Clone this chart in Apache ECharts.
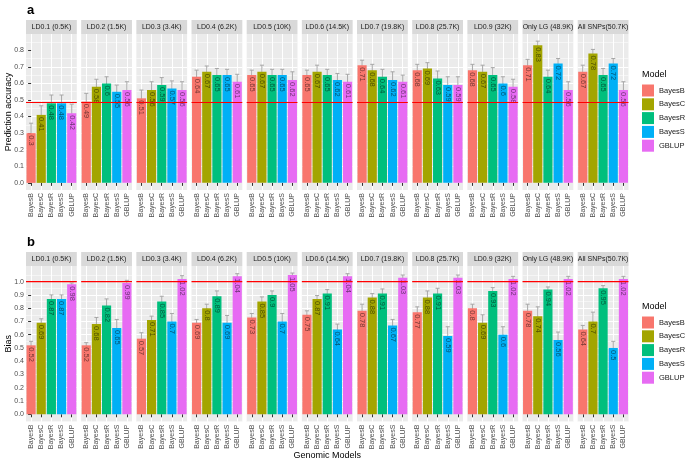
<!DOCTYPE html>
<html><head><meta charset="utf-8">
<script src="https://cdn.jsdelivr.net/npm/echarts@6/dist/echarts.min.js"></script>
<style>html,body{margin:0;padding:0;background:#fff}#c{width:685px;height:462px}</style>
</head><body><div id="c"></div>
<script>
const models = ['BayesB','BayesC','BayesR','BayesS','GBLUP'];
const colors = ['#F8766D','#A3A500','#00BF7D','#00B0F6','#E76BF3'];
const scenarios = ['LD0.1 (0.5K)','LD0.2 (1.5K)','LD0.3 (3.4K)','LD0.4 (6.2K)','LD0.5 (10K)','LD0.6 (14.5K)','LD0.7 (19.8K)','LD0.8 (25.7K)','LD0.9 (32K)','Only LG (48.9K)','All SNPs(50.7K)'];

const accuracy = [
  [0.3,0.41,0.48,0.48,0.42],
  [0.49,0.58,0.6,0.55,0.56],
  [0.51,0.56,0.59,0.57,0.56],
  [0.64,0.67,0.65,0.65,0.61],
  [0.65,0.67,0.65,0.65,0.62],
  [0.65,0.67,0.65,0.62,0.61],
  [0.71,0.68,0.64,0.62,0.61],
  [0.68,0.69,0.63,0.59,0.59],
  [0.68,0.67,0.65,0.6,0.58],
  [0.71,0.83,0.64,0.72,0.56],
  [0.67,0.78,0.65,0.72,0.56]
];
const accuracyErr = [
  [0.06,0.055,0.05,0.05,0.055],
  [0.05,0.045,0.04,0.04,0.05],
  [0.05,0.05,0.045,0.045,0.05],
  [0.04,0.035,0.04,0.035,0.045],
  [0.03,0.04,0.035,0.035,0.05],
  [0.03,0.04,0.035,0.04,0.045],
  [0.03,0.035,0.045,0.05,0.04],
  [0.035,0.035,0.045,0.05,0.05],
  [0.035,0.04,0.045,0.04,0.045],
  [0.035,0.025,0.04,0.03,0.05],
  [0.04,0.025,0.04,0.03,0.05]
];
const bias = [
  [0.52,0.69,0.87,0.87,0.98],
  [0.52,0.68,0.82,0.65,0.99],
  [0.57,0.71,0.85,0.7,1.02],
  [0.69,0.8,0.89,0.69,1.04],
  [0.73,0.85,0.9,0.7,1.05],
  [0.75,0.87,0.91,0.64,1.04],
  [0.78,0.88,0.91,0.67,1.03],
  [0.77,0.88,0.91,0.59,1.03],
  [0.8,0.69,0.93,0.6,1.02],
  [0.78,0.74,0.94,0.56,1.02],
  [0.64,0.7,0.95,0.5,1.02]
];
const biasErr = [
  [0.03,0.03,0.03,0.03,0.01],
  [0.02,0.05,0.05,0.065,0.02],
  [0.045,0.03,0.04,0.06,0.025],
  [0.025,0.03,0.04,0.055,0.02],
  [0.03,0.035,0.03,0.06,0.015],
  [0.03,0.025,0.03,0.04,0.02],
  [0.05,0.03,0.035,0.045,0.02],
  [0.04,0.05,0.04,0.07,0.02],
  [0.03,0.06,0.025,0.06,0.02],
  [0.05,0.07,0.02,0.06,0.02],
  [0.03,0.07,0.02,0.05,0.02]
];
const accuracyTicks = [0,0.1,0.2,0.3,0.4,0.5,0.6,0.7,0.8];
const biasTicks = [0,0.1,0.2,0.3,0.4,0.5,0.6,0.7,0.8,0.9,1.0];
const accuracyRef = 0.485;
const biasRef = 1.0;
const panelLetters = ['a','b'];
const yTitles = ['Prediction accuracy','Bias'];
const xTitle = 'Genomic Models';
const legendTitle = 'Model';

const FONT = '"Liberation Sans", Arial, Helvetica, sans-serif';
const L0 = 26, STEP = 55.17, W = 50.8;
const rows = [
  {vals: accuracy, errs: accuracyErr, ticks: accuracyTicks, ref: accuracyRef, top: 34, h: 156, min: -0.043, max: 0.898, split: 9, stripTop: 20, legendTop: 84.5, titleY: 75},
  {vals: bias, errs: biasErr, ticks: biasTicks, ref: biasRef, top: 266, h: 155.7, min: -0.056, max: 1.118, split: 12, stripTop: 252, legendTop: 316.5, titleY: 307}
];
const NG = rows.length * scenarios.length;
const XMIN = -0.5, XMAX = models.length - 0.5;

const grid = [], xAxis = [], yAxis = [], series = [], graphic = [], legend = [];

rows.forEach((row, r) => {
  scenarios.forEach((sc, i) => {
    const g = r * scenarios.length + i;
    const left = L0 + i * STEP;
    grid.push({left: left, width: W, top: row.top, height: row.h, show: true, backgroundColor: '#EBEBEB', borderWidth: 0});
    xAxis.push({
      gridIndex: g, type: 'category', data: models,
      axisLine: {show: false},
      axisTick: {show: true, alignWithLabel: true, length: 3, lineStyle: {color: '#333333'}},
      axisLabel: {rotate: 90, fontSize: 7, color: '#4D4D4D', margin: 3, interval: 0, fontFamily: FONT},
      splitLine: {show: false}
    });
    yAxis.push({
      gridIndex: g, type: 'value', min: row.min, max: row.max, splitNumber: row.split,
      axisLine: {show: false},
      axisTick: {show: i === 0, length: 3, lineStyle: {color: '#333333'}, customValues: row.ticks},
      axisLabel: {show: i === 0, fontSize: 7, color: '#4D4D4D', margin: 2, fontFamily: FONT, customValues: row.ticks,
        formatter: v => v.toFixed(1)},
      splitLine: {show: true, showMinLine: false, showMaxLine: false, lineStyle: {color: '#FFFFFF', width: 1}},
      minorTick: {show: false, splitNumber: 2},
      minorSplitLine: {show: true, lineStyle: {color: '#FFFFFF', width: 0.5}}
    });
    // error bars
    series.push({
      type: 'custom', xAxisIndex: g, yAxisIndex: g, z: 1.5, silent: true, animation: false,
      encode: {x: 0, y: 1},
      data: models.map((m, j) => [j, row.vals[i][j], row.errs[i][j]]),
      renderItem: (params, api) => {
        const xi = api.value(0), v = api.value(1), e = api.value(2);
        const p1 = api.coord([xi, v - e]);
        const p2 = api.coord([xi, v + e]);
        const hw = api.size([1, 0])[0] * 0.2;
        const style = {stroke: '#A6A6A6', lineWidth: 1, fill: null};
        return {type: 'group', children: [
          {type: 'line', shape: {x1: p1[0], y1: p1[1], x2: p2[0], y2: p2[1]}, style: style},
          {type: 'line', shape: {x1: p2[0] - hw, y1: p2[1], x2: p2[0] + hw, y2: p2[1]}, style: style}
        ]};
      }
    });
    // bars, one series per model
    models.forEach((m, k) => {
      series.push({
        type: 'bar', name: m, xAxisIndex: g, yAxisIndex: g, z: 2,
        barGap: '-100%', barCategoryGap: '10%', animation: false,
        itemStyle: {color: colors[k]},
        labelLayout: {hideOverlap: false},
        label: {show: true, position: 'insideTop', rotate: -90, align: 'left', verticalAlign: 'middle', distance: 2,
          overflow: 'none', fontSize: 7.5, color: 'rgba(0,0,0,0.55)', fontFamily: FONT, formatter: p => String(p.value)},
        data: models.map((mm, j) => j === k ? row.vals[i][k] : '-')
      });
    });
    // reference line across the panel, on the secondary value x axis
    series.push({
      type: 'line', xAxisIndex: NG + g, yAxisIndex: g, z: 10, silent: true, animation: false,
      symbol: 'none', showSymbol: false, color: '#FF0000',
      lineStyle: {color: '#FF0000', width: 1.1, type: 'solid'},
      data: [[XMIN, row.ref], [XMAX, row.ref]]
    });
    // strip
    graphic.push({type: 'rect', silent: true, z: 100, shape: {x: left, y: row.stripTop, width: W, height: row.top - row.stripTop}, style: {fill: '#D9D9D9'}});
    graphic.push({type: 'text', silent: true, z: 101, x: left + W / 2, y: row.stripTop + (row.top - row.stripTop) / 2,
      style: {text: sc, fontSize: 7, fill: '#1A1A1A', fontFamily: FONT, textAlign: 'center', textVerticalAlign: 'middle'}});
  });
  graphic.push({type: 'text', silent: true, z: 101, x: 27, y: r === 0 ? 10 : 242,
    style: {text: panelLetters[r], fontSize: 13, fontWeight: 'bold', fill: '#000', fontFamily: FONT, textAlign: 'left', textVerticalAlign: 'middle'}});
  graphic.push({type: 'text', silent: true, z: 101, x: 9, y: row.top + row.h / 2, rotation: Math.PI / 2,
    style: {text: yTitles[r], fontSize: 9, fill: '#000', fontFamily: FONT, textAlign: 'center', textVerticalAlign: 'middle'}});
  graphic.push({type: 'text', silent: true, z: 101, x: 642, y: row.titleY,
    style: {text: legendTitle, fontSize: 9, fill: '#000', fontFamily: FONT, textAlign: 'left', textVerticalAlign: 'middle'}});
  legend.push({
    data: models, orient: 'vertical', left: 642, top: row.legendTop, itemWidth: 12, itemHeight: 12, itemGap: 1.8,
    icon: 'rect', selectedMode: false, padding: 0,
    textStyle: {fontSize: 7.5, color: '#1A1A1A', fontFamily: FONT}
  });
});
// secondary value x axes: vertical major gridlines at category centres
for (let g = 0; g < NG; g++) {
  xAxis.push({
    gridIndex: g, type: 'value', position: 'top', min: XMIN, max: XMAX, splitNumber: models.length,
    axisLine: {show: false}, axisTick: {show: false}, axisLabel: {show: false},
    splitLine: {show: true, showMinLine: false, showMaxLine: false, lineStyle: {color: '#FFFFFF', width: 1}}
  });
}
graphic.push({type: 'text', silent: true, z: 101, x: L0 + (10 * STEP + W) / 2, y: 456,
  style: {text: xTitle, fontSize: 9, fill: '#000', fontFamily: FONT, textAlign: 'center', textVerticalAlign: 'middle'}});

const chart = echarts.init(document.getElementById('c'), null, {renderer: 'canvas'});
chart.setOption({
  animation: false,
  backgroundColor: '#FFFFFF',
  textStyle: {fontFamily: FONT},
  grid, xAxis, yAxis, series, legend, graphic
});
</script>
</body></html>
